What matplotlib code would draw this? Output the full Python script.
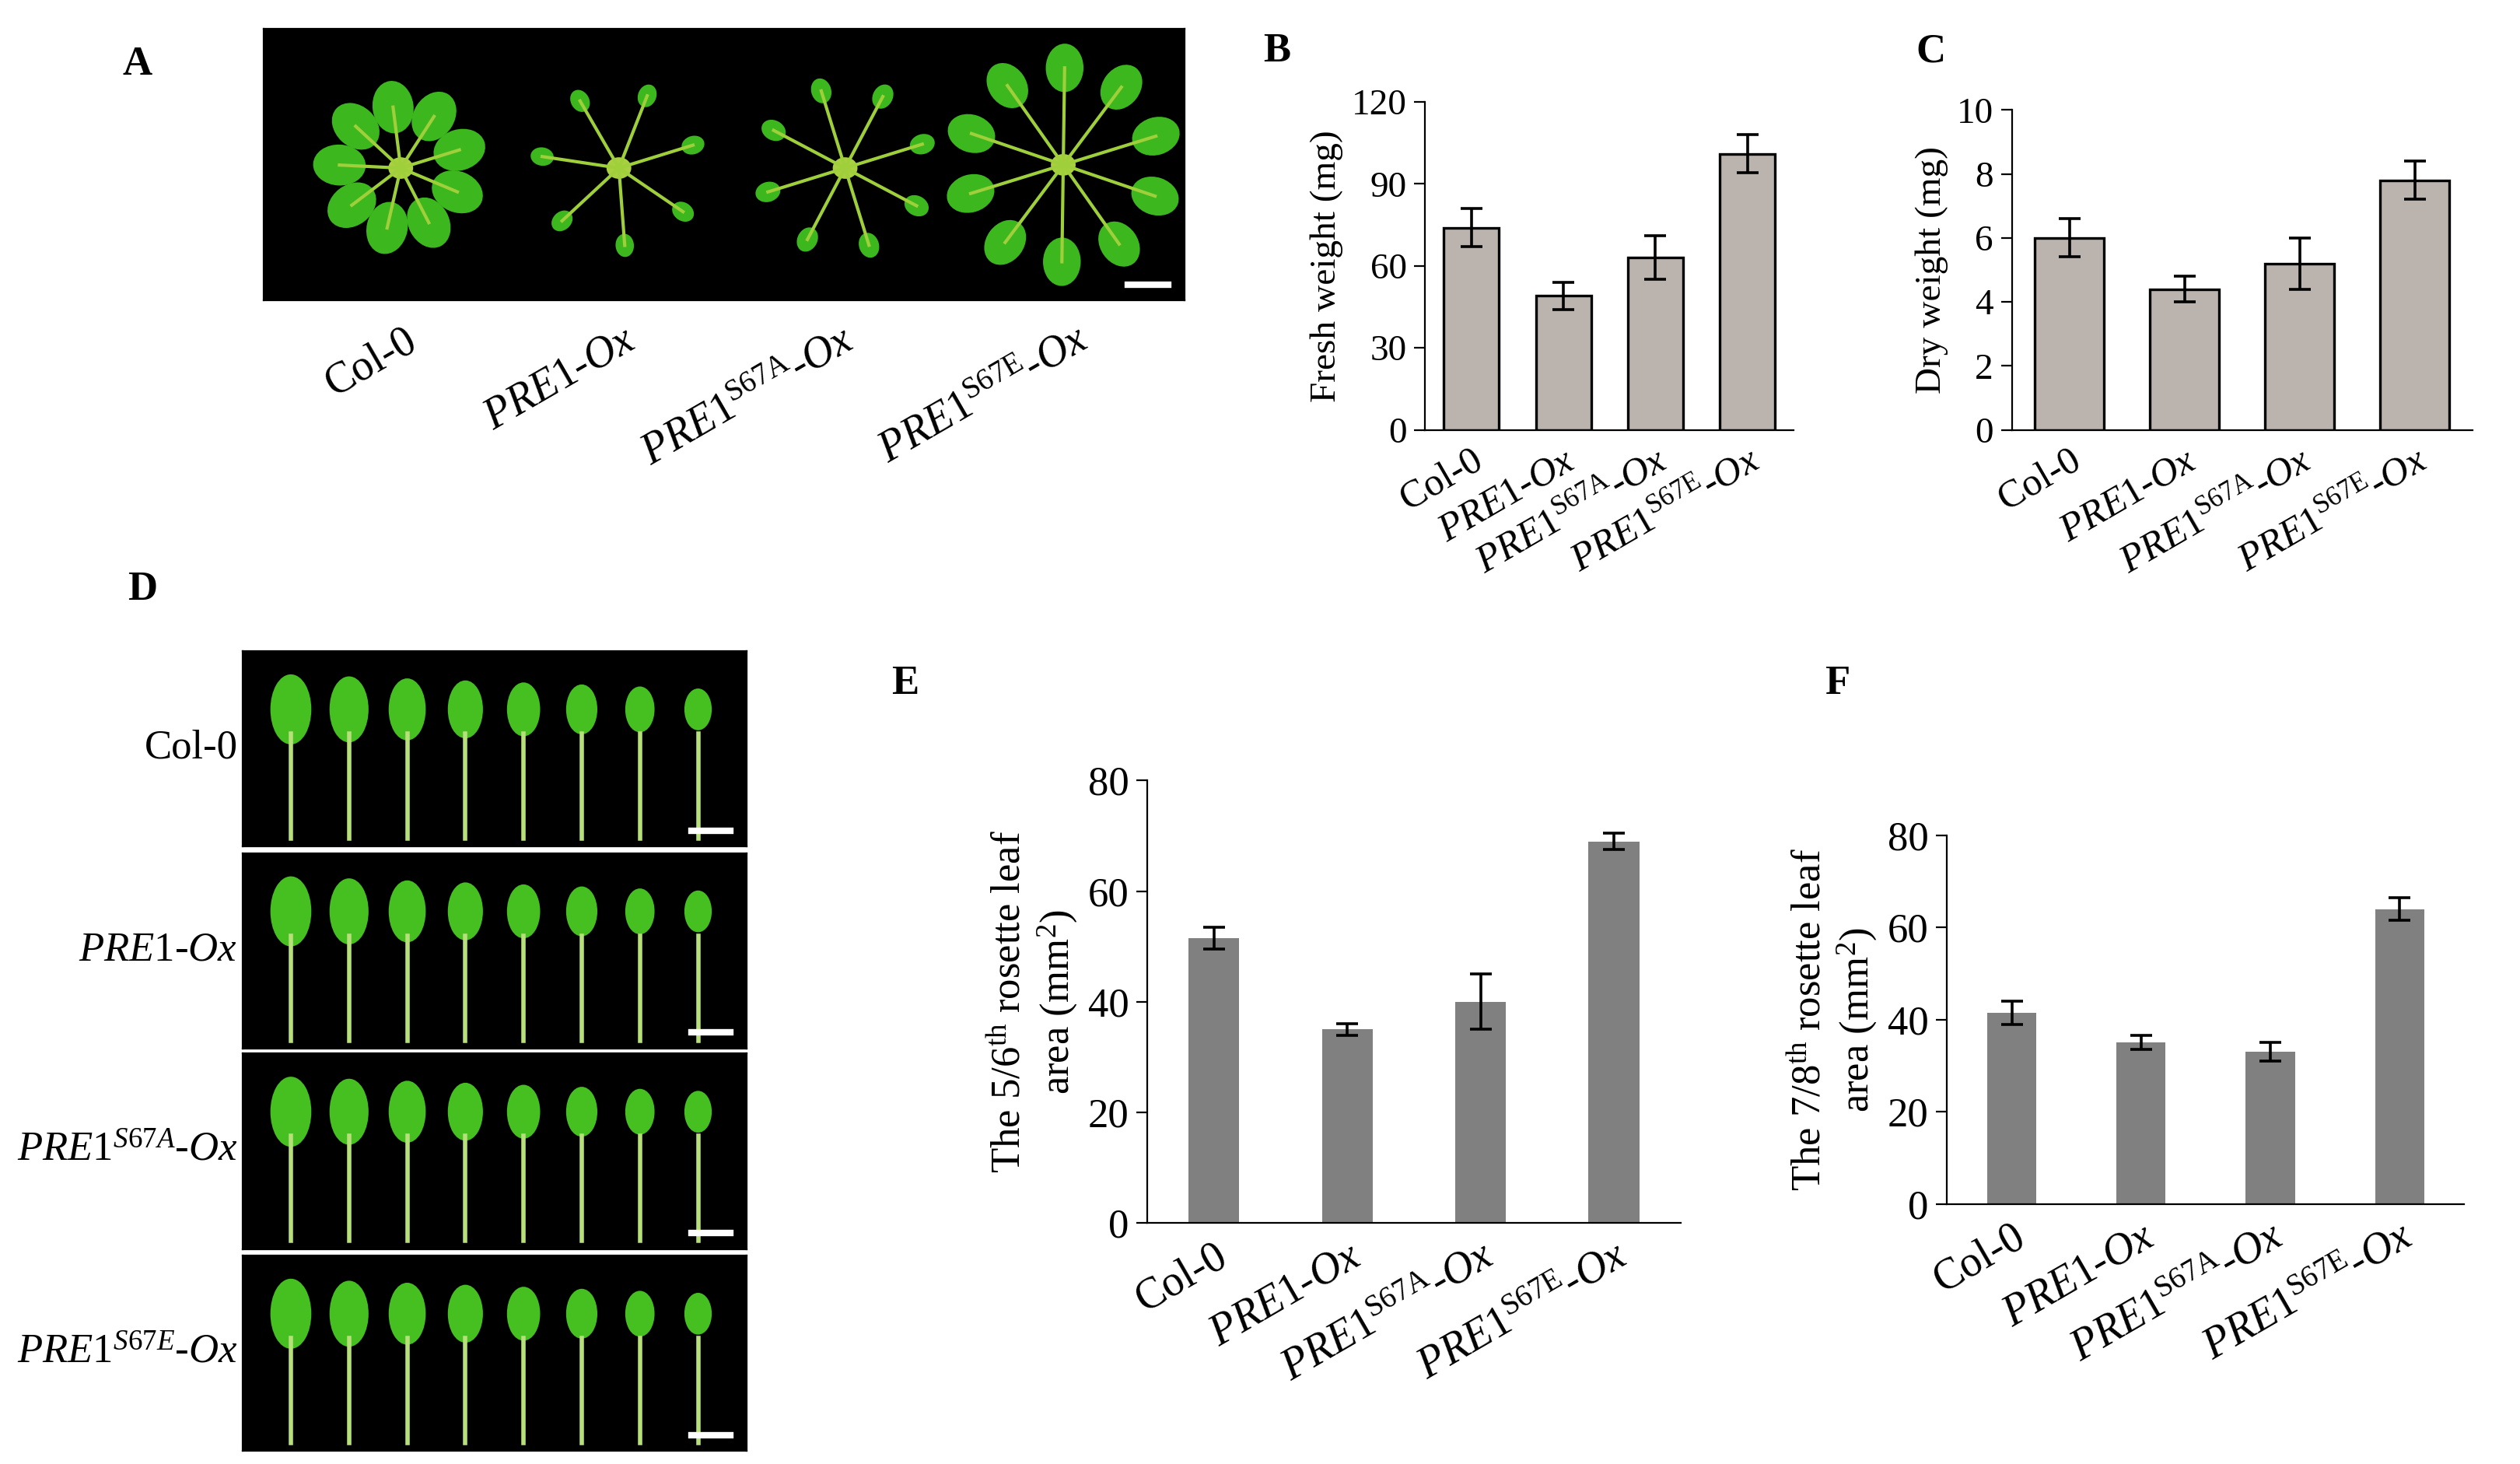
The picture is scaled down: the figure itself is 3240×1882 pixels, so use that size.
import matplotlib
matplotlib.use("Agg")
import matplotlib.pyplot as plt
from matplotlib.patches import Ellipse
import numpy as np

plt.rcParams['font.family'] = ['Liberation Serif', 'DejaVu Serif']
plt.rcParams['mathtext.fontset'] = 'custom'
plt.rcParams['mathtext.rm'] = 'Liberation Serif'
plt.rcParams['mathtext.it'] = 'Liberation Serif:italic'

genotypes = ['Col-0', r'$\mathit{PRE1}$-$\mathit{Ox}$',
             r'$\mathit{PRE1}^{\mathrm{S67A}}$-$\mathit{Ox}$',
             r'$\mathit{PRE1}^{\mathrm{S67E}}$-$\mathit{Ox}$']
fresh = [74, 49, 63, 101]
fresh_err = [7, 5, 8, 7]
dry = [6.0, 4.4, 5.2, 7.8]
dry_err = [0.6, 0.4, 0.8, 0.6]
leaf56 = [51.5, 35, 40, 69]
leaf56_err = [2, 1, 5, 1.5]
leaf78 = [41.5, 35, 33, 64]
leaf78_err = [2.5, 1.5, 2, 2.5]

W, H = 1560, 906
fig = plt.figure(figsize=(16.205, 9.41), dpi=200)

def rect(x0, y0, x1, y1):
    return [x0 / W, 1 - y1 / H, (x1 - x0) / W, (y1 - y0) / H]

def bar_panel(box, vals, errs, color, edge, width, ylim, step, ylabel, fs=17):
    ax = fig.add_axes(rect(*box))
    x = np.arange(len(vals))
    ax.bar(x, vals, width=width, color=color, edgecolor=edge, linewidth=1.2 if edge else 0,
           yerr=errs, capsize=5, error_kw=dict(elinewidth=1.3, capthick=1.3))
    ax.set_ylim(0, ylim)
    ax.set_yticks(np.arange(0, ylim + 0.01, step))
    ax.set_xlim(-0.5, len(vals) - 0.5)
    ax.set_xticks(x)
    ax.set_xticklabels(genotypes, rotation=30, ha='right', rotation_mode='anchor', fontsize=fs + 1)
    ax.tick_params(axis='x', length=0, pad=6)
    ax.tick_params(axis='y', labelsize=fs, direction='out', length=5)
    for s in ['top', 'right']:
        ax.spines[s].set_visible(False)
    ax.set_ylabel(ylabel, fontsize=fs)
    return ax

bar_panel((882, 63, 1110, 266), fresh, fresh_err, '#bab3ae', 'black', 0.6, 120, 30, 'Fresh weight (mg)')
bar_panel((1245, 68, 1530, 266), dry, dry_err, '#bab3ae', 'black', 0.6, 10, 2, 'Dry weight (mg)')
bar_panel((710, 483, 1040, 757), leaf56, leaf56_err, '#808080', None, 0.38, 80, 20,
          'The 5/6$^{\\mathrm{th}}$ rosette leaf\narea (mm$^{2}$)', fs=19)
bar_panel((1205, 517, 1525, 745), leaf78, leaf78_err, '#808080', None, 0.38, 80, 20,
          'The 7/8$^{\\mathrm{th}}$ rosette leaf\narea (mm$^{2}$)', fs=19)

# photo panel A (stylised rosettes)
axA = fig.add_axes(rect(163, 18, 733, 186))
axA.set_facecolor('black'); axA.set_xlim(0, 570); axA.set_ylim(0, 168)
axA.set_xticks([]); axA.set_yticks([])
rosettes = [(85, 82, 38, 24, 9), (220, 82, 48, 10, 7), (360, 82, 50, 11, 8), (495, 84, 60, 22, 10)]
for cx, cy, r, leaf, n in rosettes:
    for k in range(n):
        a = 2 * np.pi * k / n + 0.3
        ex, ey = cx + r * np.cos(a), cy + r * np.sin(a)
        axA.plot([cx, ex], [cy, ey], color='#9fcf3a', lw=1.5)
        axA.add_patch(Ellipse((ex, ey), leaf * 1.3, leaf, angle=np.degrees(a), color='#3cb81e'))
    axA.add_patch(Ellipse((cx, cy), 14, 12, color='#a8d040'))
axA.plot([535, 560], [10, 10], color='white', lw=3)
for lab, (xx, yy) in zip(genotypes, [(250, 198), (385, 198), (520, 198), (665, 198)]):
    fig.text(xx / W, 1 - yy / H, lab, rotation=30, ha='right', va='top', fontsize=20,
             rotation_mode='anchor')

# photo panel D (stylised leaf series)
rows = ['Col-0', r'$\mathit{PRE1}$-$\mathit{Ox}$',
        r'$\mathit{PRE1}^{S67A}$-$\mathit{Ox}$', r'$\mathit{PRE1}^{S67E}$-$\mathit{Ox}$']
ytops = [403, 528, 652, 777]
for lab, yt in zip(rows, ytops):
    ax = fig.add_axes(rect(150, yt, 462, yt + 121))
    ax.set_facecolor('black'); ax.set_xlim(0, 312); ax.set_ylim(0, 121)
    ax.set_xticks([]); ax.set_yticks([])
    for k in range(8):
        cx = 30 + k * 36
        ax.plot([cx, cx], [5, 70], color='#b7e07a', lw=2)
        ax.add_patch(Ellipse((cx, 85), 24 - k * 1.2, 42 - k * 2.5, color='#45c020'))
    ax.plot([278, 302], [10, 10], color='white', lw=3)
    fig.text(147 / W, 1 - (yt + 60) / H, lab, ha='right', va='center', fontsize=19)

for letter, (xx, yy) in zip('ABCDEF', [(85, 40), (790, 32), (1195, 32), (88, 365), (560, 423), (1137, 423)]):
    fig.text(xx / W, 1 - yy / H, letter, fontsize=19, fontweight='bold', ha='center', va='center')

fig.savefig('out.png', dpi=200)
